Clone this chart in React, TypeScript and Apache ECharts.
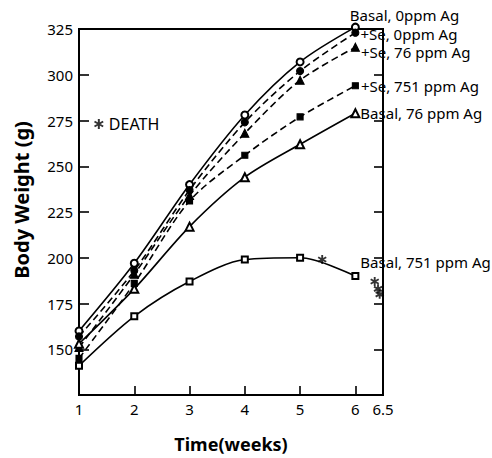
import React, { useEffect, useRef } from "react";
import * as echarts from "echarts";

const weeks = [1, 2, 3, 4, 5, 6];
const basal0 = [160, 197, 240, 278, 307, 326];
const se0 = [157, 193, 237, 274, 302, 323];
const se76 = [151, 191, 234, 268, 297, 315];
const se751 = [145, 186, 231, 256, 277, 294];
const basal76 = [153, 183, 217, 244, 262, 279];
const basal751 = [141, 168, 187, 199, 200, 190];
const deathX = [5.4, 6.35, 6.41, 6.44];
const deathY = [199, 187, 183, 180];
const xTicks = [1, 2, 3, 4, 5, 6, 6.5];

const labels = {
  basal0: "Basal, 0ppm Ag",
  se0: "+Se, 0ppm Ag",
  se76: "+Se, 76 ppm Ag",
  se751: "+Se, 751 ppm Ag",
  basal76: "Basal, 76 ppm Ag",
  basal751: "Basal, 751 ppm Ag",
};

const STAR =
  "path://M-1,-5 L1,-5 L1,5 L-1,5 Z M3.83,3.37 L-4.83,-1.63 L-3.83,-3.37 L4.83,1.63 Z M-4.83,1.63 L3.83,-3.37 L4.83,-1.63 L-3.83,3.37 Z";

const FONT = "Noto Sans";

function buildData(vals: number[], label: string, offset: number[]) {
  return vals.map((v, i) => {
    if (i === vals.length - 1) {
      return {
        value: [weeks[i], v],
        label: {
          show: true,
          formatter: label,
          position: "right",
          distance: 5,
          offset,
          color: "#000",
          fontSize: 15,
          lineHeight: 15,
          fontFamily: FONT,
        },
      };
    }
    return [weeks[i], v];
  });
}

function lineSeries(
  name: string,
  vals: number[],
  symbol: string,
  dashed: boolean,
  offset: number[],
  size = 7
) {
  return {
    name,
    type: "line",
    smooth: 0.3,
    clip: false,
    symbol,
    symbolSize: size,
    data: buildData(vals, name, offset),
    lineStyle: { color: "#000", width: 1.6, type: dashed ? [7, 4] : "solid" },
    itemStyle: { color: "#000", borderColor: "#000", borderWidth: 1.1 },
    emphasis: { disabled: true },
  };
}

export default function App() {
  const ref = useRef<HTMLDivElement>(null);
  useEffect(() => {
    if (!ref.current) return;
    const chart = echarts.init(ref.current, undefined, { renderer: "svg" });
    chart.setOption({
      animation: false,
      backgroundColor: "#fff",
      grid: {
        left: 79,
        right: 109,
        top: 29,
        bottom: 51,
        show: true,
        borderColor: "#000",
        borderWidth: 2,
      },
      legend: {
        data: [{ name: "DEATH", icon: STAR }],
        left: 89,
        top: 111,
        itemWidth: 10,
        itemHeight: 10,
        itemGap: 4,
        selectedMode: false,
        textStyle: { fontSize: 16, color: "#000", fontFamily: FONT },
      },
      xAxis: {
        type: "value",
        min: 1,
        max: 6.5,
        interval: 1,
        axisLine: { lineStyle: { color: "#000", width: 2 } },
        axisTick: { inside: true, length: 9, lineStyle: { color: "#000", width: 1.6 } },
        splitLine: { show: false },
        axisLabel: {
          color: "#000",
          fontSize: 15,
          fontFamily: FONT,
          margin: 6,
          showMaxLabel: true,
          formatter: (v: number) => (xTicks.includes(v) ? String(v) : ""),
        },
        name: "Time(weeks)",
        nameLocation: "middle",
        nameGap: 40,
        nameTextStyle: { fontSize: 18, fontWeight: "bold", color: "#000", fontFamily: FONT },
      },
      yAxis: [
        {
          type: "value",
          min: 125,
          max: 325,
          interval: 25,
          axisLine: { show: true, lineStyle: { color: "#000", width: 2 } },
          axisTick: { show: true, inside: true, length: 10, lineStyle: { color: "#000", width: 1.6 } },
          splitLine: { show: false },
          axisLabel: {
            color: "#000",
            fontSize: 15,
            fontFamily: FONT,
            margin: 6,
            formatter: (v: number) => (v === 125 ? "" : String(v)),
          },
        },
        {
          type: "value",
          min: 125,
          max: 325,
          interval: 25,
          position: "right",
          axisLine: { show: true, lineStyle: { color: "#000", width: 2 } },
          axisTick: { show: true, inside: true, length: 9, lineStyle: { color: "#000", width: 1.6 } },
          splitLine: { show: false },
          axisLabel: { show: false },
        },
      ],
      graphic: [
        {
          type: "text",
          x: 21,
          y: 200,
          rotation: Math.PI / 2,
          style: {
            text: "Body Weight (g)",
            fontSize: 20,
            fontWeight: "bold",
            fontFamily: FONT,
            fill: "#000",
            align: "center",
            verticalAlign: "middle",
          },
        },
      ],
      series: [
        lineSeries(labels.basal0, basal0, "emptyCircle", false, [-15, -12]),
        lineSeries(labels.se0, se0, "circle", true, [-4, 1]),
        lineSeries(labels.se76, se76, "triangle", true, [-4, 5], 8),
        lineSeries(labels.se751, se751, "rect", true, [-3, 0], 6),
        lineSeries(labels.basal76, basal76, "emptyTriangle", false, [-5, 0], 8),
        lineSeries(labels.basal751, basal751, "emptyRect", false, [-4, -14], 6),
        {
          name: "DEATH",
          type: "scatter",
          symbol: STAR,
          symbolSize: 9,
          data: deathX.map((x, i) => [x, deathY[i]]),
          itemStyle: { color: "#000" },
          emphasis: { disabled: true },
        },
      ],
    });
    return () => chart.dispose();
  }, []);
  return <div ref={ref} style={{ width: 492, height: 458, position: "absolute", left: 0, top: 0 }} />;
}
